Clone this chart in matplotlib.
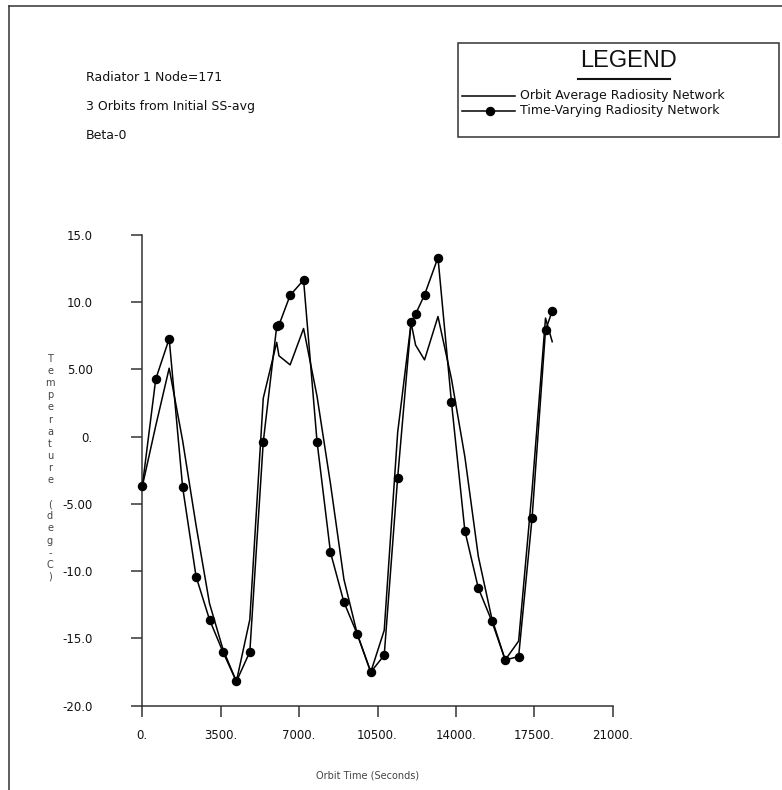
import matplotlib
matplotlib.use("Agg")
import matplotlib.pyplot as plt
from matplotlib.lines import Line2D

W, H = 782, 790

# Orbit average radiosity network (plain line)
avg_time = [0, 600, 1200, 1800, 2400, 3000, 3600, 4200, 4800, 5400, 6000, 6100,
            6600, 7200, 7800, 8400, 9000, 9600, 10200, 10800, 11400, 12000,
            12200, 12600, 13200, 13800, 14400, 15000, 15600, 16200, 16800,
            17400, 18000, 18300]
avg_temp = [-3.7, 0.8, 5.08, -0.3, -6.6, -12.4, -15.8, -18.2, -13.6, 2.85, 7.0, 6.0,
            5.33, 8.03, 3.0, -3.5, -10.6, -14.7, -17.5, -14.4, 0.3, 8.45,
            6.8, 5.7, 8.92, 4.3, -1.5, -8.9, -13.5, -16.6, -15.2,
            -4.0, 8.8, 7.05]

# Time-varying radiosity network (line with dots)
tv_time = [0, 600, 1200, 1800, 2400, 3000, 3600, 4200, 4800, 5400, 6000, 6100,
           6600, 7200, 7800, 8400, 9000, 9600, 10200, 10800, 11400, 12000,
           12200, 12600, 13200, 13800, 14400, 15000, 15600, 16200, 16800,
           17400, 18000, 18300]
tv_temp = [-3.7, 4.27, 7.27, -3.76, -10.4, -13.6, -16.0, -18.2, -16.0, -0.4, 8.18, 8.28,
           10.5, 11.63, -0.37, -8.6, -12.3, -14.7, -17.5, -16.25, -3.05, 8.48,
           9.1, 10.53, 13.3, 2.58, -7.0, -11.26, -13.7, -16.6, -16.35,
           -6.06, 7.9, 9.33]

x_ticks = [0, 3500, 7000, 10500, 14000, 17500, 21000]
x_tick_labels = ["0.", "3500.", "7000.", "10500.", "14000.", "17500.", "21000."]
y_ticks = [-20, -15, -10, -5, 0, 5, 10, 15]
y_tick_labels = ["-20.0", "-15.0", "-10.0", "-5.00", "0.", "5.00", "10.0", "15.0"]

notes = ["Radiator 1 Node=171", "3 Orbits from Initial SS-avg", "Beta-0"]
y_label = "Temperature (deg-C)"
x_label = "Orbit Time (Seconds)"
legend_labels = ["Orbit Average Radiosity Network", "Time-Varying Radiosity Network"]


def fx(px):
    return px / W


def fy(py):
    return 1 - py / H


plt.rcParams["font.family"] = ["DejaVu Sans"]
fig = plt.figure(figsize=(W / 100, H / 100), dpi=100)

ax_l, ax_r, ax_t, ax_b = 142.3, 612.7, 234.7, 705.7
ax = fig.add_axes([fx(ax_l), fy(ax_b), fx(ax_r) - fx(ax_l), fy(ax_t) - fy(ax_b)])
ax.patch.set_alpha(0)

ax.plot(avg_time, avg_temp, color="black", lw=1.1, zorder=3, clip_on=False)
ax.plot(tv_time, tv_temp, color="black", lw=1.1, marker="o", ms=5.8,
        zorder=4, clip_on=False)

ax.set_xlim(0, 21000)
ax.set_ylim(-20, 15)
for s in ("top", "right"):
    ax.spines[s].set_visible(False)
for s in ("left", "bottom"):
    ax.spines[s].set_color("#333333")
    ax.spines[s].set_linewidth(1.1)
ax.set_xticks(x_ticks)
ax.set_xticklabels(x_tick_labels)
ax.set_yticks(y_ticks)
ax.set_yticklabels(y_tick_labels)
ax.tick_params(direction="out", length=7.8, width=1.1, color="#333333",
               labelsize=8.5, labelcolor="#111111")
ax.tick_params(axis="x", pad=9)
ax.tick_params(axis="y", pad=28)

# vertical stacked y label
for i, ch in enumerate(y_label):
    fig.text(fx(50), fy(359 + i * 12.1), ch, ha="center", va="center",
             fontsize=7, color="#444444")

fig.text(fx(368), fy(776), x_label, ha="center", va="center",
         fontsize=7, color="#444444")

for i, t in enumerate(notes):
    fig.text(fx(86), fy(77.5 + i * 29), t, ha="left", va="center",
             fontsize=9, color="#111111")

# legend box
fig.add_artist(plt.Rectangle((fx(458.3), fy(136.7)), fx(779) - fx(458.3),
                             fy(43.3) - fy(136.7), fill=False, ec="#333333",
                             lw=1.1, transform=fig.transFigure))
fig.text(fx(629), fy(61), "LEGEND", ha="center", va="center",
         fontsize=17, family=["Liberation Sans", "DejaVu Sans"], color="#111111")
fig.add_artist(Line2D([fx(578), fx(670)], [fy(79.3), fy(79.3)], color="#111111",
                      lw=1.5, transform=fig.transFigure))
fig.add_artist(Line2D([fx(462), fx(515)], [fy(96), fy(96)], color="black",
                      lw=1.1, transform=fig.transFigure))
fig.add_artist(Line2D([fx(462), fx(515)], [fy(110.7), fy(110.7)], color="black",
                      lw=1.1, transform=fig.transFigure))
fig.add_artist(Line2D([fx(490)], [fy(110.7)], color="black", marker="o", ms=5.8,
                      transform=fig.transFigure))
fig.text(fx(520), fy(96), legend_labels[0], ha="left", va="center",
         fontsize=9, color="#111111")
fig.text(fx(520), fy(110.7), legend_labels[1], ha="left", va="center",
         fontsize=9, color="#111111")

# page frame (left and top edges)
fig.add_artist(Line2D([fx(9), fx(9)], [fy(6), 0], color="#333333", lw=1.1,
                      transform=fig.transFigure))
fig.add_artist(Line2D([fx(9), 1], [fy(6), fy(6)], color="#333333", lw=1.1,
                      transform=fig.transFigure))

fig.savefig("out.png", dpi=100)
